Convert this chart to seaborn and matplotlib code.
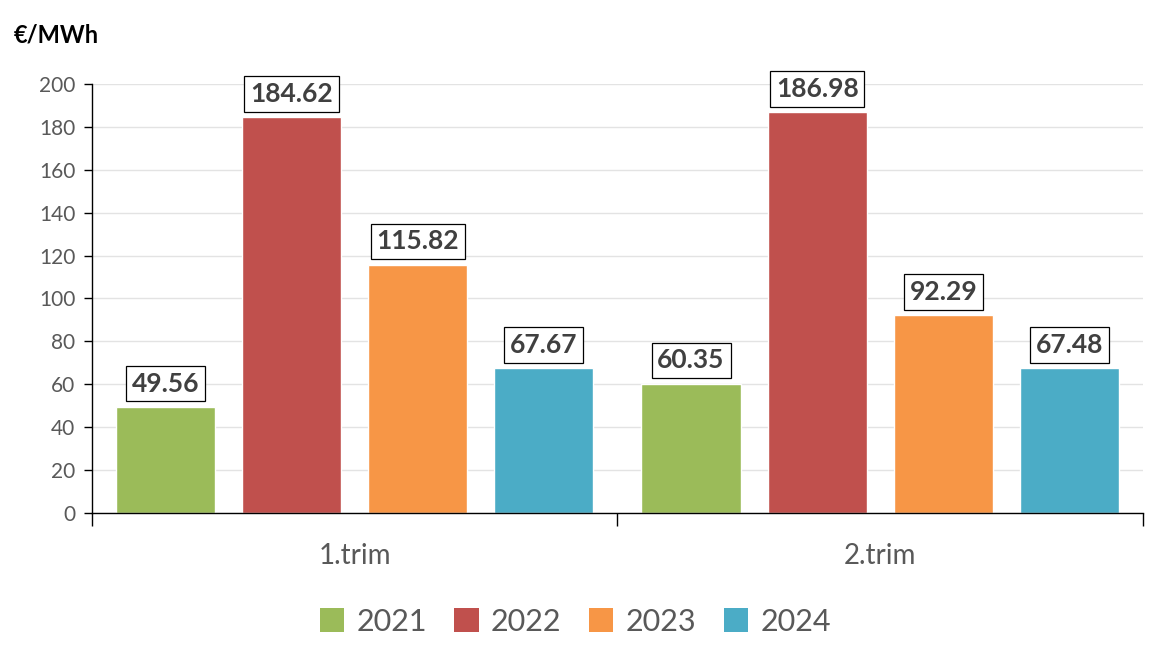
import numpy as np
import pandas as pd
import matplotlib
matplotlib.use("Agg")
import matplotlib.pyplot as plt
import seaborn as sns
from matplotlib.patches import Patch


QUARTERS = ["1.trim", "2.trim"]
YEARS = ["2021", "2022", "2023", "2024"]
VALUES = {
    "2021": [49.56, 60.35],
    "2022": [184.62, 186.98],
    "2023": [115.82, 92.29],
    "2024": [67.67, 67.48],
}
COLORS = ["#9BBB59", "#C0504D", "#F79646", "#4BACC6"]
Y_TICKS = list(range(0, 201, 20))

rows = []
for year in YEARS:
    for q, v in zip(QUARTERS, VALUES[year]):
        rows.append({"trim": q, "year": year, "value": v})
df = pd.DataFrame(rows)

sns.set_style("white")
plt.rcParams["font.family"] = ["Lato", "DejaVu Sans"]

fig = plt.figure(figsize=(11.67, 6.65), dpi=100)
ax = fig.add_axes([0.0788, 0.2286, 0.9006, 0.6451])

sns.barplot(
    data=df, x="trim", y="value", hue="year", order=QUARTERS, hue_order=YEARS,
    palette=COLORS, width=0.96, gap=0.214, saturation=1, ax=ax, legend=False,
    errorbar=None,
)

for cont in ax.containers:
    ax.bar_label(
        cont, fmt="%.2f", padding=8, fontsize=19, fontweight="bold", color="#404040",
        bbox=dict(boxstyle="square,pad=0.22", facecolor="white", edgecolor="black", linewidth=0.9),
    )

ax.set_xlim(-0.5, 1.5)
ax.set_ylim(0, 200)
ax.set_yticks(Y_TICKS)
ax.yaxis.grid(True, color="#E3E3E3", linewidth=1)
ax.set_axisbelow(True)

for s in ["top", "right"]:
    ax.spines[s].set_visible(False)
for s in ["left", "bottom"]:
    ax.spines[s].set_color("black")
    ax.spines[s].set_linewidth(1)

ax.tick_params(axis="y", which="major", left=True, length=6, width=1, color="black",
               labelsize=15, labelcolor="#595959", pad=6)
ax.set_xticks([-0.5, 0.5, 1.5], minor=True)
ax.tick_params(axis="x", which="minor", bottom=True, length=9, width=1, color="black")
ax.tick_params(axis="x", which="major", bottom=False, labelsize=20, labelcolor="#595959", pad=18)
ax.set_xlabel("")
ax.set_ylabel("")

fig.text(0.012, 0.947, "€/MWh", fontsize=17, fontweight="bold", color="black", va="center")

handles = [Patch(facecolor=c, edgecolor="none") for c in COLORS]
fig.legend(handles, YEARS, loc="center", bbox_to_anchor=(0.493, 0.065), ncol=4, frameon=False,
           fontsize=22, labelcolor="#595959", handlelength=0.8, handleheight=0.8,
           handletextpad=0.4, columnspacing=0.9)

fig.savefig("out.png", dpi=100)
